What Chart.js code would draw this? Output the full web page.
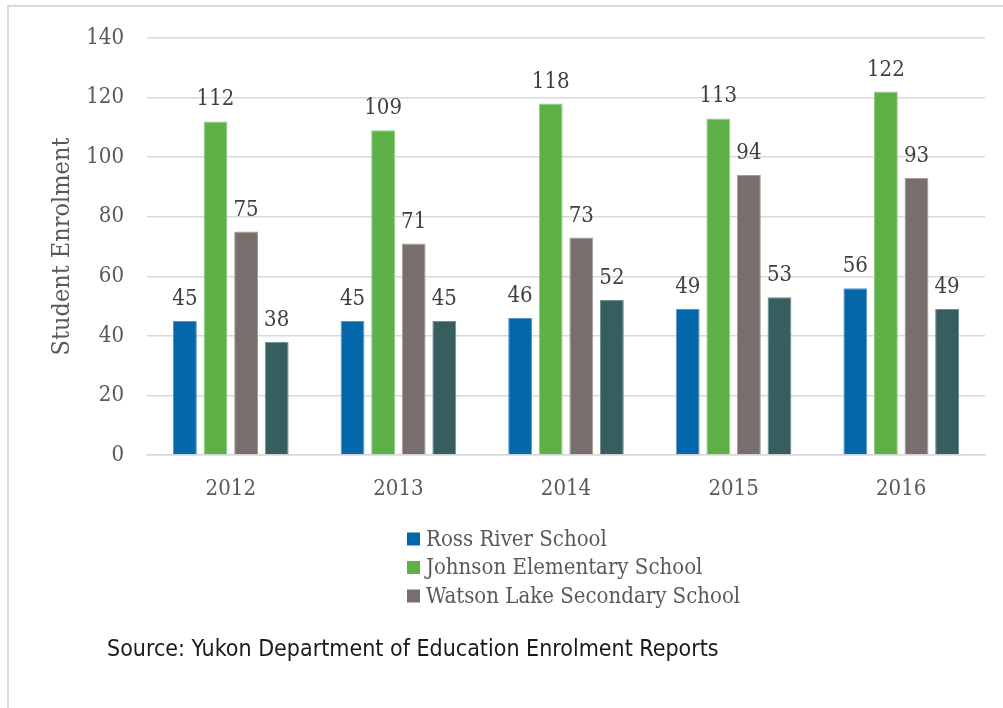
<!DOCTYPE html>
<html>
<head>
<meta charset="utf-8">
<script src="https://cdn.jsdelivr.net/npm/chart.js@4.4.1/dist/chart.umd.min.js"></script>
<style>
  html, body { margin: 0; padding: 0; background: #ffffff; }
  #wrap { position: relative; width: 1003px; height: 708px; overflow: hidden; }
  #frame { position: absolute; left: 7px; top: 5px; width: 1010px; height: 720px;
           border-top: 2px solid #dadada; border-left: 2px solid #dadada; }
  #c { position: absolute; left: 0; top: 0; }
</style>
</head>
<body>
<div id="wrap">
  <div id="frame"></div>
  <canvas id="c" width="1003" height="708"></canvas>
</div>
<script>
// Enrolment by school year
const years = ['2012', '2013', '2014', '2015', '2016'];
const rossRiver = [45, 45, 46, 49, 56];
const johnsonElementary = [112, 109, 118, 113, 122];
const watsonLakeSecondary = [75, 71, 73, 94, 93];
const fourthSchool = [38, 45, 52, 53, 49];
const yTicks = [0, 20, 40, 60, 80, 100, 120, 140];

const seriesNames = ['Ross River School', 'Johnson Elementary School', 'Watson Lake Secondary School', ''];
const seriesColors = ['#0467a9', '#5db146', '#786e6b', '#365e5f'];
const seriesEdges = ['#5a97c4', '#93cc84', '#a39c99', '#6f8f90'];
const sourceNote = 'Source: Yukon Department of Education Enrolment Reports';

const SERIF = '"DejaVu Serif Condensed", "DejaVu Serif", serif';
const SANS = '"DejaVu Sans Condensed", "DejaVu Sans", sans-serif';

const values = [rossRiver, johnsonElementary, watsonLakeSecondary, fourthSchool];

// Value labels above each bar
const barLabels = {
  id: 'barLabels',
  afterDatasetsDraw(chart) {
    const ctx = chart.ctx;
    ctx.save();
    ctx.font = '22px ' + SERIF;
    ctx.fillStyle = '#404040';
    ctx.textAlign = 'center';
    ctx.textBaseline = 'alphabetic';
    chart.data.datasets.forEach((ds, i) => {
      chart.getDatasetMeta(i).data.forEach((bar, j) => {
        ctx.fillText(String(ds.data[j]), bar.x, bar.y - 16);
      });
    });
    ctx.restore();
  }
};

// Stacked legend and source line beneath the plot
const footer = {
  id: 'footer',
  afterDraw(chart) {
    const ctx = chart.ctx;
    ctx.save();
    ctx.font = '22px ' + SERIF;
    ctx.textBaseline = 'middle';
    ctx.textAlign = 'left';
    let row = 0;
    chart.data.datasets.forEach((ds) => {
      if (!ds.label) return;
      const cy = 539 + row * 28.5;
      ctx.fillStyle = ds.backgroundColor;
      ctx.fillRect(407, cy - 6.5, 13, 13);
      ctx.fillStyle = '#595959';
      ctx.fillText(ds.label, 426, cy + 1);
      row++;
    });
    ctx.font = '23px ' + SANS;
    ctx.fillStyle = '#1a1a1a';
    ctx.fillText(sourceNote, 107, 650);
    ctx.restore();
  }
};

new Chart(document.getElementById('c'), {
  type: 'bar',
  data: {
    labels: years,
    datasets: values.map((v, i) => ({
      label: seriesNames[i],
      data: v,
      backgroundColor: seriesColors[i],
      borderColor: seriesEdges[i],
      borderWidth: 1,
      categoryPercentage: 0.73,
      barPercentage: 0.78
    }))
  },
  options: {
    responsive: false,
    animation: false,
    layout: { padding: { top: 38, right: 18, bottom: 190, left: 0 } },
    plugins: {
      legend: { display: false },
      tooltip: { enabled: false }
    },
    scales: {
      x: {
        grid: { display: false },
        border: { display: true, color: '#d9d9d9', width: 1.5 },
        ticks: { color: '#595959', font: { family: SERIF, size: 22 }, padding: 13 },
        afterFit(s) { s.height = 63; }
      },
      y: {
        min: 0,
        max: 140,
        afterBuildTicks(s) { s.ticks = yTicks.map(v => ({ value: v })); },
        grid: { color: '#d9d9d9', lineWidth: 1.5, drawTicks: false },
        border: { display: false },
        ticks: { color: '#595959', font: { family: SERIF, size: 22 }, padding: 23 },
        title: {
          display: true,
          text: 'Student Enrolment',
          color: '#595959',
          font: { family: SERIF, size: 25 },
          padding: { top: 47, bottom: 0 }
        },
        afterFit(s) { s.width = 147; }
      }
    }
  },
  plugins: [barLabels, footer]
});
</script>
</body>
</html>
